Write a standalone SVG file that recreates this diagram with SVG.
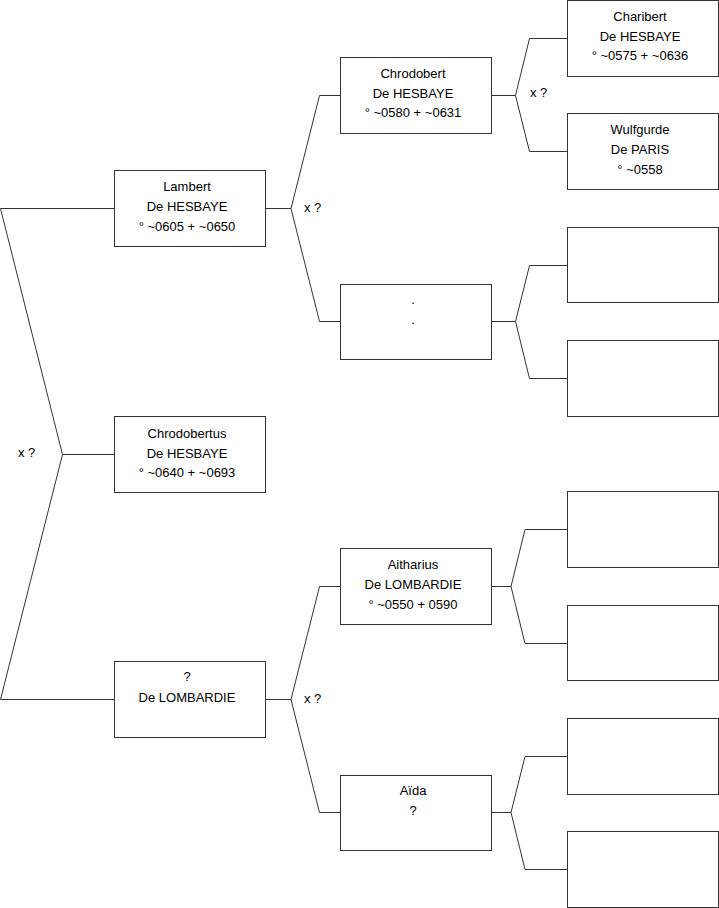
<svg xmlns="http://www.w3.org/2000/svg" width="719" height="908" viewBox="0 0 719 908">
<style>
rect.b{fill:#fff;stroke:#333;stroke-width:1}
#connectors path{fill:none;stroke:#333;stroke-width:1}
text{font-family:"Liberation Sans",Arial,sans-serif;font-size:13px;fill:#000;text-anchor:middle}
text.l{text-anchor:start}
</style>
<rect width="719" height="908" fill="#fff"/>
<g id="connectors">
<path d="M0.5,208.5 H114 M0.5,208.5 L62.5,454.5 H114 M62.5,454.5 L0.5,699.5 H114"/>
<path d="M265,208.5 H291 M291,208.5 L319.5,95.5 H340 M291,208.5 L319.5,321.5 H340"/>
<path d="M265,699.5 H291 M291,699.5 L319.5,586.5 H340 M291,699.5 L319.5,812.5 H340"/>
<path d="M491,95.5 H515.5 M515.5,95.5 L529.5,38.5 H567 M515.5,95.5 L529.5,151.5 H567"/>
<path d="M491,321.5 H515.5 M515.5,321.5 L529.5,265.5 H567 M515.5,321.5 L529.5,378.5 H567"/>
<path d="M491,586.5 H511 M511,586.5 L525,529.5 H567 M511,586.5 L525,643.5 H567"/>
<path d="M491,812.5 H511 M511,812.5 L525,756.5 H567 M511,812.5 L525,869.5 H567"/>
</g>
<g id="labels">
<text class="l" x="18" y="457">x ?</text>
<text class="l" x="304" y="212">x ?</text>
<text class="l" x="530" y="97">x ?</text>
<text class="l" x="304" y="703">x ?</text>
</g>
<g id="lambert"><rect class="b" x="114.5" y="170.5" width="151" height="76"/>
<text x="187" y="191">Lambert</text><text x="187" y="211">De HESBAYE</text><text x="187" y="231">° ~0605 + ~0650</text></g>
<g id="chrodobertus"><rect class="b" x="114.5" y="416.5" width="151" height="76"/>
<text x="187" y="438">Chrodobertus</text><text x="187" y="458">De HESBAYE</text><text x="187" y="477">° ~0640 + ~0693</text></g>
<g id="lombardie"><rect class="b" x="114.5" y="661.5" width="151" height="76"/>
<text x="187" y="681">?</text><text x="187" y="702">De LOMBARDIE</text></g>
<g id="chrodobert"><rect class="b" x="340.5" y="57.5" width="151" height="76"/>
<text x="413" y="78">Chrodobert</text><text x="413" y="98">De HESBAYE</text><text x="413" y="117">° ~0580 + ~0631</text></g>
<g id="unknown1"><rect class="b" x="340.5" y="284.5" width="151" height="75"/>
<text x="413" y="304">.</text><text x="413" y="324">.</text></g>
<g id="aitharius"><rect class="b" x="340.5" y="548.5" width="151" height="76"/>
<text x="413" y="569">Aitharius</text><text x="413" y="589">De LOMBARDIE</text><text x="413" y="609">° ~0550 + 0590</text></g>
<g id="aida"><rect class="b" x="340.5" y="775.5" width="151" height="75"/>
<text x="413" y="795">Aïda</text><text x="413" y="815">?</text></g>
<g id="charibert"><rect class="b" x="567.5" y="0.5" width="151" height="76"/>
<text x="640" y="21">Charibert</text><text x="640" y="41">De HESBAYE</text><text x="640" y="60">° ~0575 + ~0636</text></g>
<g id="wulfgurde"><rect class="b" x="567.5" y="113.5" width="151" height="76"/>
<text x="640" y="134">Wulfgurde</text><text x="640" y="154">De PARIS</text><text x="640" y="174">° ~0558</text></g>
<g id="empty1"><rect class="b" x="567.5" y="227.5" width="151" height="75"/></g>
<g id="empty2"><rect class="b" x="567.5" y="340.5" width="151" height="76"/></g>
<g id="empty3"><rect class="b" x="567.5" y="491.5" width="151" height="76"/></g>
<g id="empty4"><rect class="b" x="567.5" y="605.5" width="151" height="75"/></g>
<g id="empty5"><rect class="b" x="567.5" y="718.5" width="151" height="76"/></g>
<g id="empty6"><rect class="b" x="567.5" y="831.5" width="151" height="76"/></g>
</svg>
